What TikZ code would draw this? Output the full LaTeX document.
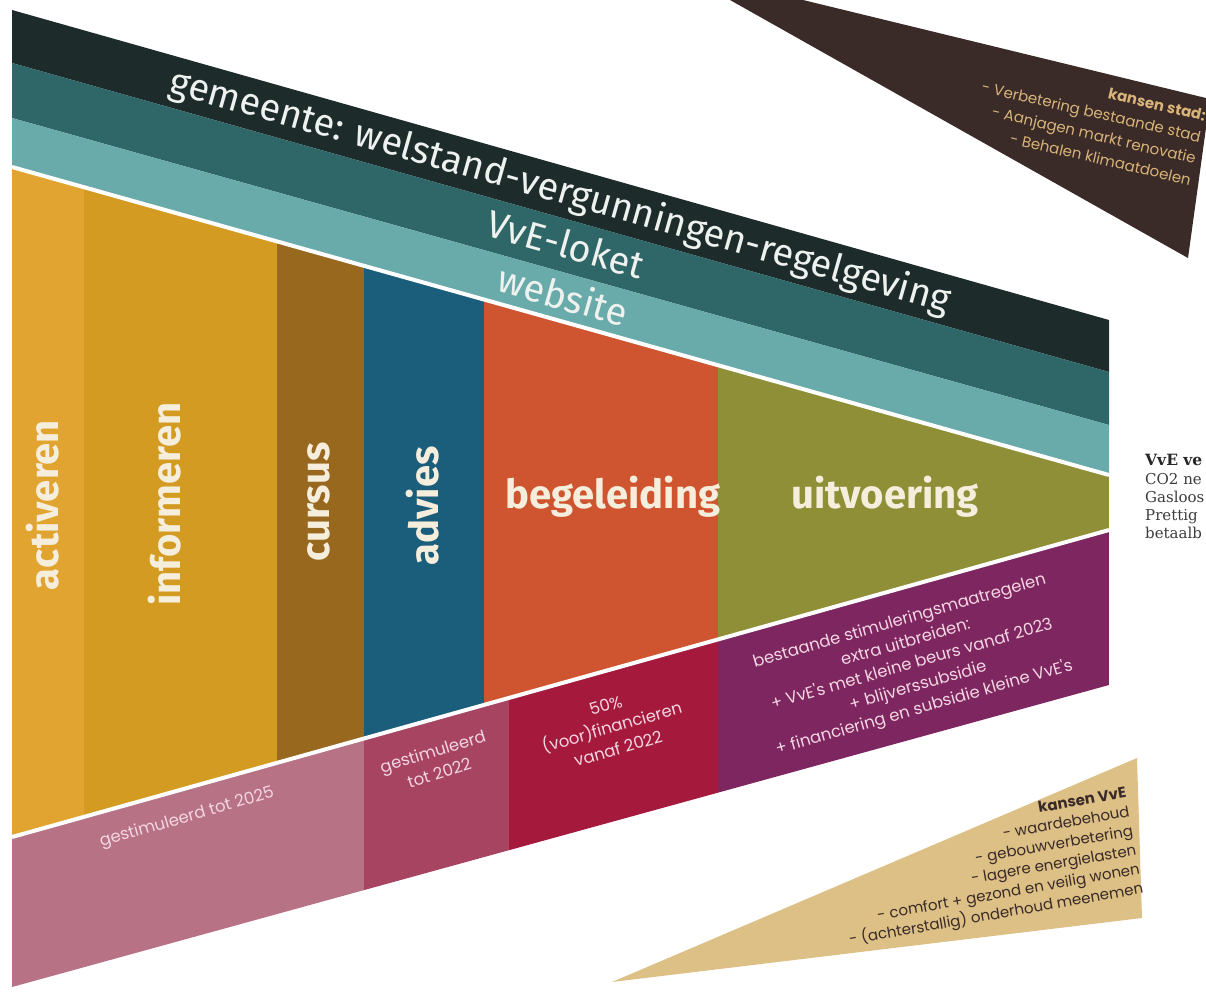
\documentclass[tikz,border=0pt]{standalone}
\usepackage{fontspec}
\setmainfont{Fira Sans}
\newfontfamily\pop{Poppins}
\newfontfamily\slab{DejaVu Serif}
\usetikzlibrary{calc}
\definecolor{cDark}{HTML}{1E2B2B}
\definecolor{cTeal}{HTML}{2F6668}
\definecolor{cLTeal}{HTML}{69AAAA}
\definecolor{cAct}{HTML}{E2A430}
\definecolor{cInf}{HTML}{D49B22}
\definecolor{cCur}{HTML}{98681F}
\definecolor{cAdv}{HTML}{1B5E7B}
\definecolor{cBeg}{HTML}{CF5531}
\definecolor{cUit}{HTML}{8E8F36}
\definecolor{cPinkA}{HTML}{B87286}
\definecolor{cPinkB}{HTML}{A64462}
\definecolor{cCrim}{HTML}{A51A3C}
\definecolor{cPurp}{HTML}{7E2660}
\definecolor{cStad}{HTML}{3A2A28}
\definecolor{cTan}{HTML}{DCC085}
\definecolor{cTanTxt}{HTML}{D8B47A}
\definecolor{cCream}{HTML}{F6EEDC}
\definecolor{cBandTxt}{HTML}{EEF2EE}
\definecolor{cPinkTxt}{HTML}{F3D6E2}
\definecolor{cGreyTxt}{HTML}{3C3C3C}
\tikzset{
  bandtxt/.style={text=cBandTxt, inner sep=0pt, font=\fontsize{38}{42}\selectfont},
  collabel/.style={text=cCream, inner sep=0pt, font=\bfseries\fontsize{40}{44}\selectfont},
  smalltxt/.style={text=cPinkTxt, inner sep=0pt, align=center, font=\pop\fontsize{16.5}{22.5}\selectfont},
  stadtxt/.style={text=cTanTxt, inner sep=0pt, align=right, font=\pop\fontsize{15}{22}\selectfont},
  vvetxt/.style={text=cStad, inner sep=0pt, align=right, font=\pop\fontsize{15}{19.5}\selectfont},
  sidetxt/.style={text=cGreyTxt, inner sep=0pt, anchor=base west, font=\slab\fontsize{15}{18}\selectfont}
}
\begin{document}
\begin{tikzpicture}[x=1pt,y=-1pt]
\useasboundingbox (0,0) rectangle (1206,991);
\clip (0,0) rectangle (1206,991);
% band coordinates
\coordinate (D0L) at (12,10);   \coordinate (D0R) at (1109,320);
\coordinate (D1L) at (12,63);   \coordinate (D1R) at (1109,372);
\coordinate (D2L) at (12,118);  \coordinate (D2R) at (1109,425);
\coordinate (TL) at (12,167);   \coordinate (TR) at (1109,475);
\coordinate (BL) at (12,837);   \coordinate (BR) at (1109,530);
\coordinate (LL) at (12,987);   \coordinate (LR) at (1109,685);
% top bands
\fill[cDark] (D0L)--(D0R)--(D1R)--(D1L)--cycle;
\fill[cTeal] (D1L)--(D1R)--(D2R)--(D2L)--cycle;
\fill[cLTeal] (D2L)--(D2R)--(TR)--(TL)--cycle;
% columns
\begin{scope}
\clip (TL)--(TR)--(BR)--(BL)--cycle;
\fill[cAct] (12,0) rectangle (84,991);
\fill[cInf] (84,0) rectangle (277,991);
\fill[cCur] (277,0) rectangle (364,991);
\fill[cAdv] (364,0) rectangle (484,991);
\fill[cBeg] (484,0) rectangle (718,991);
\fill[cUit] (718,0) rectangle (1109,991);
\end{scope}
% bottom bands
\begin{scope}
\clip (BL)--(BR)--(LR)--(LL)--cycle;
\fill[cPinkA] (12,0) rectangle (364,991);
\fill[cPinkB] (364,0) rectangle (509,991);
\fill[cCrim] (509,0) rectangle (718,991);
\fill[cPurp] (718,0) rectangle (1109,991);
\end{scope}
% white separators
\draw[white, line width=4pt] (TL)--(TR);
\draw[white, line width=4pt] (BL)--(BR);
% side wedges
\fill[cStad] (730,0)--(803,0)--(1210,99)--(1188,258)--cycle;
\fill[cTan] (612,982)--(1137,758)--(1142,918)--cycle;
% band texts
\node[bandtxt, rotate=-15.8] (gem) at (560,192) {gemeente: welstand-vergunningen-regelgeving};
\node[bandtxt, rotate=-15.8] (lok) at (566,244) {VvE-loket};
\node[bandtxt, rotate=-15.8] (web) at (563,295) {website};
% column labels
\node[collabel, rotate=90] (act) at (43,505) {activeren};
\node[collabel, rotate=90] (inf) at (165,504) {informeren};
\node[collabel, rotate=90] (cur) at (319,502) {cursus};
\node[collabel, rotate=90] (adv) at (423,506) {advies};
\node[collabel] (beg) at (613,497) {begeleiding};
\node[collabel] (uit) at (885,497) {uitvoering};
% bottom band texts
\node[smalltxt, rotate=16] (g25) at (187,818) {gestimuleerd tot 2025};
\node[smalltxt, rotate=17] (g22) at (436,762) {gestimuleerd\\tot 2022};
\node[smalltxt, rotate=16] (fin) at (612,727) {50\%\\(voor)financieren\\vanaf 2022};
\node[smalltxt, rotate=16] (best) at (912,665) {bestaande stimuleringsmaatregelen\\extra uitbreiden:\\+ VvE's met kleine beurs vanaf 2023\\+ blijverssubsidie\\+ financiering en subsidie kleine VvE's};
% wedge texts
\node[stadtxt, rotate=-13, anchor=north east] (stad) at (1207,110) {\bfseries kansen stad:\\- Verbetering bestaande stad\\- Aanjagen markt renovatie\\- Behalen klimaatdoelen};
\node[vvetxt, rotate=10, anchor=north east] (kvve) at (1125,786) {\bfseries kansen VvE\\- waardebehoud\\- gebouwverbetering\\- lagere energielasten\\- comfort + gezond en veilig wonen\\- (achterstallig) onderhoud meenemen};
% right side text
\node[sidetxt, font=\slab\bfseries\fontsize{15.5}{18}\selectfont, text=black!85] (vve) at (1145,465) {VvE ve};
\node[sidetxt] (co2) at (1145,484) {CO2 ne};
\node[sidetxt] (gas) at (1145,502) {Gasloos};
\node[sidetxt] (pre) at (1145,520) {Prettig};
\node[sidetxt] (bet) at (1145,538) {betaalb};
\end{tikzpicture}
\end{document}
